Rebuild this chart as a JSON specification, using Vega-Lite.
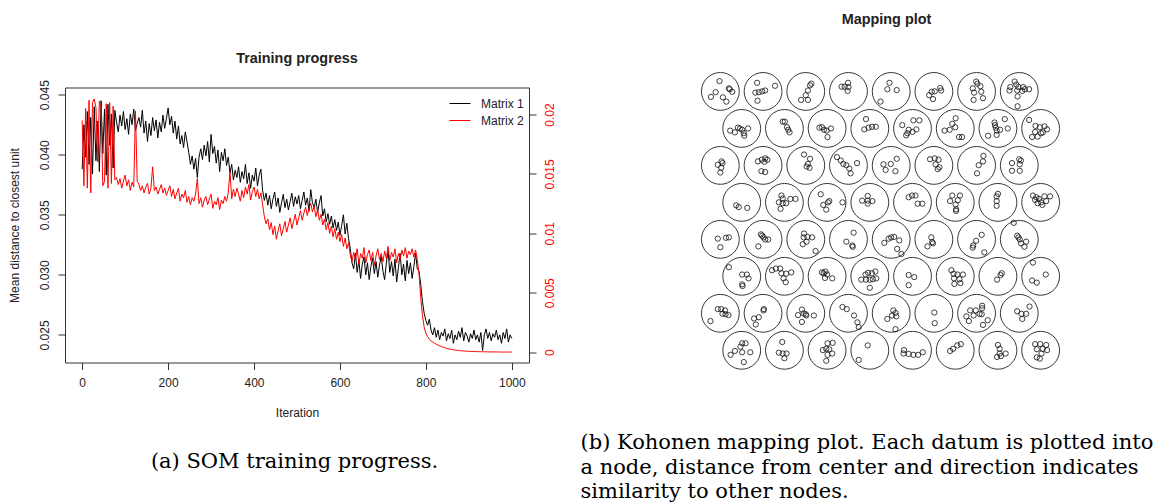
{
  "$schema": "https://vega.github.io/schema/vega-lite/v6.json",
  "background": "white",
  "autosize": {"type": "pad"},
  "padding": {"left": 7, "top": 12, "right": 0, "bottom": 0},
  "bounds": "flush",
  "center": true,
  "spacing": 170,
  "resolve": {"scale": {"color": "independent"}, "legend": {"color": "independent"}},
  "config": {
    "font": "Liberation Sans",
    "view": {"stroke": null},
    "axis": {
      "labelFont": "Liberation Sans", "labelFontSize": 12, "labelColor": "#222",
      "titleFont": "Liberation Sans", "titleFontSize": 12, "titleFontWeight": "normal", "titleColor": "#222",
      "tickColor": "#333", "tickSize": 7, "tickWidth": 1, "domain": false, "grid": false
    },
    "title": {"font": "Liberation Sans", "fontSize": 14.4, "fontWeight": "bold", "color": "#222", "baseline": "alphabetic"},
    "legend": {"labelFont": "Liberation Sans", "labelFontSize": 12, "labelColor": "#222"}
  },
  "datasets": {
    "training": [
      {"iter":0,"m1":0.0388,"m2":0.0195},{"iter":4,"m1":0.0425,"m2":0.0140},{"iter":8,"m1":0.0398,"m2":0.0205},{"iter":12,"m1":0.0436,"m2":0.0138},{"iter":16,"m1":0.0392,"m2":0.0212},
      {"iter":20,"m1":0.0431,"m2":0.0134},{"iter":24,"m1":0.0384,"m2":0.0210},{"iter":28,"m1":0.0440,"m2":0.0213},{"iter":32,"m1":0.0395,"m2":0.0206},{"iter":36,"m1":0.0428,"m2":0.0160},
      {"iter":40,"m1":0.0386,"m2":0.0211},{"iter":44,"m1":0.0445,"m2":0.0207},{"iter":48,"m1":0.0401,"m2":0.0140},{"iter":52,"m1":0.0438,"m2":0.0144},{"iter":56,"m1":0.0383,"m2":0.0209},
      {"iter":60,"m1":0.0442,"m2":0.0138},{"iter":64,"m1":0.0408,"m2":0.0210},{"iter":68,"m1":0.0434,"m2":0.0142},{"iter":72,"m1":0.0389,"m2":0.0207},{"iter":76,"m1":0.0437,"m2":0.0145},
      {"iter":80,"m1":0.0427,"m2":0.0147},{"iter":84,"m1":0.0419,"m2":0.0141},{"iter":88,"m1":0.0433,"m2":0.0146},{"iter":92,"m1":0.0424,"m2":0.0138},{"iter":96,"m1":0.0436,"m2":0.0144},
      {"iter":100,"m1":0.0421,"m2":0.0149},{"iter":104,"m1":0.0430,"m2":0.0140},{"iter":108,"m1":0.0417,"m2":0.0145},{"iter":112,"m1":0.0434,"m2":0.0136},{"iter":116,"m1":0.0425,"m2":0.0143},
      {"iter":120,"m1":0.0438,"m2":0.0139},{"iter":124,"m1":0.0420,"m2":0.0203},{"iter":128,"m1":0.0426,"m2":0.0144},{"iter":132,"m1":0.0431,"m2":0.0141},{"iter":136,"m1":0.0423,"m2":0.0136},
      {"iter":140,"m1":0.0437,"m2":0.0140},{"iter":144,"m1":0.0418,"m2":0.0134},{"iter":148,"m1":0.0428,"m2":0.0139},{"iter":152,"m1":0.0411,"m2":0.0142},{"iter":156,"m1":0.0426,"m2":0.0133},
      {"iter":160,"m1":0.0416,"m2":0.0138},{"iter":164,"m1":0.0431,"m2":0.0156},{"iter":168,"m1":0.0420,"m2":0.0136},{"iter":172,"m1":0.0429,"m2":0.0139},{"iter":176,"m1":0.0414,"m2":0.0133},
      {"iter":180,"m1":0.0427,"m2":0.0137},{"iter":184,"m1":0.0419,"m2":0.0141},{"iter":188,"m1":0.0433,"m2":0.0134},{"iter":192,"m1":0.0422,"m2":0.0138},{"iter":196,"m1":0.0430,"m2":0.0132},
      {"iter":200,"m1":0.0439,"m2":0.0136},{"iter":204,"m1":0.0425,"m2":0.0140},{"iter":208,"m1":0.0432,"m2":0.0131},{"iter":212,"m1":0.0418,"m2":0.0137},{"iter":216,"m1":0.0428,"m2":0.0129},
      {"iter":220,"m1":0.0413,"m2":0.0134},{"iter":224,"m1":0.0424,"m2":0.0138},{"iter":228,"m1":0.0409,"m2":0.0127},{"iter":232,"m1":0.0416,"m2":0.0133},{"iter":236,"m1":0.0406,"m2":0.0130},
      {"iter":240,"m1":0.0419,"m2":0.0136},{"iter":244,"m1":0.0411,"m2":0.0126},{"iter":248,"m1":0.0402,"m2":0.0131},{"iter":252,"m1":0.0392,"m2":0.0124},{"iter":256,"m1":0.0399,"m2":0.0130},
      {"iter":260,"m1":0.0388,"m2":0.0127},{"iter":264,"m1":0.0397,"m2":0.0133},{"iter":268,"m1":0.0381,"m2":0.0146},{"iter":272,"m1":0.0398,"m2":0.0125},{"iter":276,"m1":0.0405,"m2":0.0130},
      {"iter":280,"m1":0.0396,"m2":0.0122},{"iter":284,"m1":0.0408,"m2":0.0128},{"iter":288,"m1":0.0399,"m2":0.0131},{"iter":292,"m1":0.0411,"m2":0.0124},{"iter":296,"m1":0.0394,"m2":0.0129},
      {"iter":300,"m1":0.0417,"m2":0.0133},{"iter":304,"m1":0.0401,"m2":0.0121},{"iter":308,"m1":0.0407,"m2":0.0127},{"iter":312,"m1":0.0393,"m2":0.0124},{"iter":316,"m1":0.0404,"m2":0.0130},
      {"iter":320,"m1":0.0386,"m2":0.0120},{"iter":324,"m1":0.0402,"m2":0.0128},{"iter":328,"m1":0.0395,"m2":0.0125},{"iter":332,"m1":0.0405,"m2":0.0131},{"iter":336,"m1":0.0391,"m2":0.0127},
      {"iter":340,"m1":0.0398,"m2":0.0134},{"iter":344,"m1":0.0385,"m2":0.0152},{"iter":348,"m1":0.0392,"m2":0.0129},{"iter":352,"m1":0.0379,"m2":0.0137},{"iter":356,"m1":0.0387,"m2":0.0131},
      {"iter":360,"m1":0.0381,"m2":0.0138},{"iter":364,"m1":0.0390,"m2":0.0133},{"iter":368,"m1":0.0377,"m2":0.0127},{"iter":372,"m1":0.0386,"m2":0.0136},{"iter":376,"m1":0.0380,"m2":0.0130},
      {"iter":380,"m1":0.0392,"m2":0.0139},{"iter":384,"m1":0.0376,"m2":0.0133},{"iter":388,"m1":0.0385,"m2":0.0141},{"iter":392,"m1":0.0372,"m2":0.0128},{"iter":396,"m1":0.0383,"m2":0.0135},
      {"iter":400,"m1":0.0378,"m2":0.0139},{"iter":404,"m1":0.0389,"m2":0.0131},{"iter":408,"m1":0.0374,"m2":0.0137},{"iter":412,"m1":0.0383,"m2":0.0129},{"iter":416,"m1":0.0388,"m2":0.0134},
      {"iter":420,"m1":0.0370,"m2":0.0124},{"iter":424,"m1":0.0362,"m2":0.0114},{"iter":428,"m1":0.0368,"m2":0.0108},{"iter":432,"m1":0.0358,"m2":0.0112},{"iter":436,"m1":0.0366,"m2":0.0103},
      {"iter":440,"m1":0.0355,"m2":0.0109},{"iter":444,"m1":0.0363,"m2":0.0099},{"iter":448,"m1":0.0369,"m2":0.0106},{"iter":452,"m1":0.0357,"m2":0.0095},{"iter":456,"m1":0.0364,"m2":0.0102},
      {"iter":460,"m1":0.0352,"m2":0.0108},{"iter":464,"m1":0.0360,"m2":0.0098},{"iter":468,"m1":0.0367,"m2":0.0104},{"iter":472,"m1":0.0356,"m2":0.0110},{"iter":476,"m1":0.0363,"m2":0.0101},
      {"iter":480,"m1":0.0354,"m2":0.0107},{"iter":484,"m1":0.0361,"m2":0.0113},{"iter":488,"m1":0.0368,"m2":0.0104},{"iter":492,"m1":0.0357,"m2":0.0110},{"iter":496,"m1":0.0365,"m2":0.0116},
      {"iter":500,"m1":0.0359,"m2":0.0107},{"iter":504,"m1":0.0366,"m2":0.0113},{"iter":508,"m1":0.0355,"m2":0.0119},{"iter":512,"m1":0.0362,"m2":0.0111},{"iter":516,"m1":0.0369,"m2":0.0117},
      {"iter":520,"m1":0.0358,"m2":0.0122},{"iter":524,"m1":0.0364,"m2":0.0115},{"iter":528,"m1":0.0353,"m2":0.0121},{"iter":532,"m1":0.0371,"m2":0.0125},{"iter":536,"m1":0.0360,"m2":0.0118},
      {"iter":540,"m1":0.0356,"m2":0.0123},{"iter":544,"m1":0.0363,"m2":0.0114},{"iter":548,"m1":0.0352,"m2":0.0120},{"iter":552,"m1":0.0360,"m2":0.0111},{"iter":556,"m1":0.0366,"m2":0.0116},
      {"iter":560,"m1":0.0349,"m2":0.0107},{"iter":564,"m1":0.0355,"m2":0.0112},{"iter":568,"m1":0.0344,"m2":0.0103},{"iter":572,"m1":0.0351,"m2":0.0109},{"iter":576,"m1":0.0342,"m2":0.0100},
      {"iter":580,"m1":0.0349,"m2":0.0106},{"iter":584,"m1":0.0339,"m2":0.0097},{"iter":588,"m1":0.0346,"m2":0.0104},{"iter":592,"m1":0.0337,"m2":0.0095},{"iter":596,"m1":0.0344,"m2":0.0101},
      {"iter":600,"m1":0.0333,"m2":0.0093},{"iter":604,"m1":0.0341,"m2":0.0099},{"iter":608,"m1":0.0350,"m2":0.0089},{"iter":612,"m1":0.0334,"m2":0.0096},{"iter":616,"m1":0.0343,"m2":0.0087},
      {"iter":620,"m1":0.0330,"m2":0.0092},{"iter":624,"m1":0.0322,"m2":0.0082},{"iter":628,"m1":0.0310,"m2":0.0076},{"iter":632,"m1":0.0305,"m2":0.0084},{"iter":636,"m1":0.0318,"m2":0.0078},
      {"iter":640,"m1":0.0302,"m2":0.0087},{"iter":644,"m1":0.0312,"m2":0.0074},{"iter":648,"m1":0.0297,"m2":0.0083},{"iter":652,"m1":0.0309,"m2":0.0079},{"iter":656,"m1":0.0315,"m2":0.0088},
      {"iter":660,"m1":0.0300,"m2":0.0075},{"iter":664,"m1":0.0310,"m2":0.0082},{"iter":668,"m1":0.0296,"m2":0.0086},{"iter":672,"m1":0.0307,"m2":0.0077},{"iter":676,"m1":0.0314,"m2":0.0084},
      {"iter":680,"m1":0.0301,"m2":0.0073},{"iter":684,"m1":0.0311,"m2":0.0081},{"iter":688,"m1":0.0298,"m2":0.0087},{"iter":692,"m1":0.0308,"m2":0.0078},{"iter":696,"m1":0.0316,"m2":0.0083},
      {"iter":700,"m1":0.0303,"m2":0.0076},{"iter":704,"m1":0.0296,"m2":0.0085},{"iter":708,"m1":0.0310,"m2":0.0079},{"iter":712,"m1":0.0320,"m2":0.0089},{"iter":716,"m1":0.0302,"m2":0.0077},
      {"iter":720,"m1":0.0311,"m2":0.0084},{"iter":724,"m1":0.0299,"m2":0.0080},{"iter":728,"m1":0.0313,"m2":0.0087},{"iter":732,"m1":0.0294,"m2":0.0075},{"iter":736,"m1":0.0306,"m2":0.0083},
      {"iter":740,"m1":0.0318,"m2":0.0078},{"iter":744,"m1":0.0300,"m2":0.0086},{"iter":748,"m1":0.0309,"m2":0.0081},{"iter":752,"m1":0.0295,"m2":0.0088},{"iter":756,"m1":0.0312,"m2":0.0079},
      {"iter":760,"m1":0.0301,"m2":0.0085},{"iter":764,"m1":0.0310,"m2":0.0082},{"iter":768,"m1":0.0297,"m2":0.0087},{"iter":772,"m1":0.0307,"m2":0.0080},{"iter":776,"m1":0.0318,"m2":0.0086},
      {"iter":780,"m1":0.0305,"m2":0.0078},{"iter":784,"m1":0.0303,"m2":0.0066},{"iter":788,"m1":0.0292,"m2":0.0046},{"iter":792,"m1":0.0278,"m2":0.0031},{"iter":796,"m1":0.0268,"m2":0.0021},
      {"iter":800,"m1":0.0262,"m2":0.0016},{"iter":804,"m1":0.0258,"m2":0.0013},{"iter":808,"m1":0.0263,"m2":0.0011},{"iter":812,"m1":0.0254,"m2":0.00095},{"iter":816,"m1":0.0250,"m2":0.00085},
      {"iter":820,"m1":0.0256,"m2":0.00075},{"iter":824,"m1":0.0248,"m2":0.00067},{"iter":828,"m1":0.0254,"m2":0.0006},{"iter":832,"m1":0.0246,"m2":0.00053},{"iter":836,"m1":0.0252,"m2":0.00047},
      {"iter":840,"m1":0.0249,"m2":0.00042},{"iter":844,"m1":0.0255,"m2":0.00037},{"iter":848,"m1":0.0245,"m2":0.00033},{"iter":852,"m1":0.0251,"m2":0.00029},{"iter":856,"m1":0.0247,"m2":0.00026},
      {"iter":860,"m1":0.0254,"m2":0.00023},{"iter":864,"m1":0.0243,"m2":0.0002},{"iter":868,"m1":0.0250,"m2":0.00018},{"iter":872,"m1":0.0246,"m2":0.00016},{"iter":876,"m1":0.0253,"m2":0.00014},
      {"iter":880,"m1":0.0248,"m2":0.00012},{"iter":884,"m1":0.0256,"m2":0.00011},{"iter":888,"m1":0.0245,"m2":0.0001},{"iter":892,"m1":0.0252,"m2":0.00009},{"iter":896,"m1":0.0249,"m2":0.00008},
      {"iter":900,"m1":0.0244,"m2":0.00007},{"iter":904,"m1":0.0251,"m2":0.00006},{"iter":908,"m1":0.0247,"m2":0.00006},{"iter":912,"m1":0.0254,"m2":0.00005},{"iter":916,"m1":0.0246,"m2":0.00005},
      {"iter":920,"m1":0.0250,"m2":0.00004},{"iter":924,"m1":0.0244,"m2":0.00004},{"iter":928,"m1":0.0252,"m2":0.00004},{"iter":932,"m1":0.0237,"m2":0.00003},{"iter":936,"m1":0.0250,"m2":0.00003},
      {"iter":940,"m1":0.0255,"m2":0.00003},{"iter":944,"m1":0.0247,"m2":0.00003},{"iter":948,"m1":0.0252,"m2":0.00002},{"iter":952,"m1":0.0245,"m2":0.00002},{"iter":956,"m1":0.0251,"m2":0.00002},
      {"iter":960,"m1":0.0248,"m2":0.00002},{"iter":964,"m1":0.0254,"m2":0.00002},{"iter":968,"m1":0.0246,"m2":0.00002},{"iter":972,"m1":0.0250,"m2":0.00001},{"iter":976,"m1":0.0243,"m2":0.00001},
      {"iter":980,"m1":0.0252,"m2":0.00001},{"iter":984,"m1":0.0247,"m2":0.00001},{"iter":988,"m1":0.0255,"m2":0.00001},{"iter":992,"m1":0.0244,"m2":0.00001},{"iter":996,"m1":0.0250,"m2":0.00001},
      {"iter":1000,"m1":0.0247,"m2":0.00001}
    ],
    "nodes": [
      {"x":1,"y":6.928},{"x":2,"y":6.928},{"x":3,"y":6.928},{"x":4,"y":6.928},{"x":5,"y":6.928},{"x":6,"y":6.928},{"x":7,"y":6.928},{"x":8,"y":6.928},
      {"x":1.5,"y":6.062},{"x":2.5,"y":6.062},{"x":3.5,"y":6.062},{"x":4.5,"y":6.062},{"x":5.5,"y":6.062},{"x":6.5,"y":6.062},{"x":7.5,"y":6.062},{"x":8.5,"y":6.062},
      {"x":1,"y":5.196},{"x":2,"y":5.196},{"x":3,"y":5.196},{"x":4,"y":5.196},{"x":5,"y":5.196},{"x":6,"y":5.196},{"x":7,"y":5.196},{"x":8,"y":5.196},
      {"x":1.5,"y":4.33},{"x":2.5,"y":4.33},{"x":3.5,"y":4.33},{"x":4.5,"y":4.33},{"x":5.5,"y":4.33},{"x":6.5,"y":4.33},{"x":7.5,"y":4.33},{"x":8.5,"y":4.33},
      {"x":1,"y":3.464},{"x":2,"y":3.464},{"x":3,"y":3.464},{"x":4,"y":3.464},{"x":5,"y":3.464},{"x":6,"y":3.464},{"x":7,"y":3.464},{"x":8,"y":3.464},
      {"x":1.5,"y":2.598},{"x":2.5,"y":2.598},{"x":3.5,"y":2.598},{"x":4.5,"y":2.598},{"x":5.5,"y":2.598},{"x":6.5,"y":2.598},{"x":7.5,"y":2.598},{"x":8.5,"y":2.598},
      {"x":1,"y":1.732},{"x":2,"y":1.732},{"x":3,"y":1.732},{"x":4,"y":1.732},{"x":5,"y":1.732},{"x":6,"y":1.732},{"x":7,"y":1.732},{"x":8,"y":1.732},
      {"x":1.5,"y":0.866},{"x":2.5,"y":0.866},{"x":3.5,"y":0.866},{"x":4.5,"y":0.866},{"x":5.5,"y":0.866},{"x":6.5,"y":0.866},{"x":7.5,"y":0.866},{"x":8.5,"y":0.866}
    ],
    "mapped": [
      {"x":0.98,"y":7.17},{"x":0.89,"y":6.91},{"x":0.78,"y":6.80},{"x":1.20,"y":7.00},{"x":1.22,"y":6.98},{"x":1.28,"y":6.92},{"x":1.06,"y":6.79},{"x":1.14,"y":6.69},
      {"x":1.86,"y":7.13},{"x":1.82,"y":6.90},{"x":1.90,"y":6.91},{"x":1.98,"y":6.93},{"x":2.05,"y":6.95},{"x":1.87,"y":6.71},{"x":2.28,"y":7.06},
      {"x":3.13,"y":7.11},{"x":3.10,"y":7.07},{"x":3.05,"y":6.95},{"x":3.00,"y":6.84},{"x":2.89,"y":6.73},{"x":3.05,"y":6.73},
      {"x":3.99,"y":7.13},{"x":3.84,"y":7.04},{"x":3.91,"y":7.04},{"x":4.00,"y":7.03},{"x":3.98,"y":6.94},
      {"x":4.96,"y":7.13},{"x":4.91,"y":6.98},{"x":5.13,"y":6.96},{"x":4.75,"y":6.69},
      {"x":6.15,"y":7.01},{"x":6.17,"y":6.95},{"x":5.95,"y":6.92},{"x":6.02,"y":6.93},{"x":5.89,"y":6.84},{"x":5.98,"y":6.75},
      {"x":6.99,"y":7.16},{"x":7.02,"y":7.11},{"x":6.91,"y":7.00},{"x":7.09,"y":7.05},{"x":7.11,"y":6.92},{"x":6.94,"y":6.90},{"x":6.93,"y":6.73},{"x":7.15,"y":6.77},
      {"x":7.89,"y":7.16},{"x":7.93,"y":7.09},{"x":7.79,"y":7.03},{"x":7.98,"y":7.03},{"x":8.09,"y":7.03},{"x":8.13,"y":6.98},{"x":8.23,"y":6.98},{"x":7.77,"y":6.95},{"x":7.95,"y":6.95},{"x":8.07,"y":6.94},{"x":7.96,"y":6.81},{"x":7.96,"y":6.58},
      {"x":1.23,"y":6.01},{"x":1.34,"y":5.97},{"x":1.41,"y":6.08},{"x":1.46,"y":6.06},{"x":1.51,"y":6.03},{"x":1.55,"y":5.95},{"x":1.56,"y":5.89},{"x":1.65,"y":6.06},
      {"x":2.46,"y":6.22},{"x":2.51,"y":6.22},{"x":2.56,"y":6.09},{"x":2.59,"y":6.03},{"x":2.62,"y":5.97},
      {"x":3.32,"y":6.08},{"x":3.38,"y":6.09},{"x":3.43,"y":6.03},{"x":3.49,"y":6.01},{"x":3.59,"y":6.06},{"x":3.51,"y":5.86},
      {"x":4.41,"y":6.28},{"x":4.37,"y":6.04},{"x":4.47,"y":6.08},{"x":4.55,"y":6.10},{"x":4.64,"y":6.10},
      {"x":5.26,"y":6.14},{"x":5.52,"y":6.25},{"x":5.66,"y":6.25},{"x":5.41,"y":6.03},{"x":5.59,"y":6.04},{"x":5.50,"y":5.98},{"x":5.38,"y":5.95},{"x":5.35,"y":5.90},
      {"x":6.51,"y":6.30},{"x":6.43,"y":6.17},{"x":6.50,"y":6.09},{"x":6.25,"y":6.01},{"x":6.37,"y":6.03},{"x":6.59,"y":5.86},{"x":6.66,"y":5.86},
      {"x":7.42,"y":6.20},{"x":7.43,"y":6.14},{"x":7.45,"y":6.08},{"x":7.47,"y":6.01},{"x":7.66,"y":6.28},{"x":7.73,"y":6.06},{"x":7.27,"y":5.89},{"x":7.47,"y":5.91},{"x":7.55,"y":6.03},
      {"x":8.23,"y":6.26},{"x":8.38,"y":6.12},{"x":8.48,"y":6.09},{"x":8.59,"y":6.11},{"x":8.65,"y":6.04},{"x":8.37,"y":5.98},{"x":8.51,"y":5.95},{"x":8.55,"y":5.97},{"x":8.43,"y":5.87},{"x":8.30,"y":5.86},
      {"x":1.03,"y":5.29},{"x":1.05,"y":5.25},{"x":0.94,"y":5.21},{"x":1.02,"y":5.14},{"x":1.00,"y":5.03},
      {"x":1.88,"y":5.29},{"x":1.97,"y":5.33},{"x":2.05,"y":5.36},{"x":2.10,"y":5.33},{"x":2.03,"y":5.28},{"x":1.96,"y":5.06},{"x":2.05,"y":5.04},
      {"x":2.96,"y":5.45},{"x":3.10,"y":5.35},{"x":3.05,"y":5.23},{"x":3.02,"y":5.17},{"x":3.09,"y":5.14},
      {"x":3.73,"y":5.39},{"x":3.82,"y":5.31},{"x":3.88,"y":5.23},{"x":3.95,"y":5.20},{"x":4.02,"y":5.12},{"x":4.05,"y":5.01},{"x":4.20,"y":5.25},
      {"x":5.13,"y":5.35},{"x":4.99,"y":5.23},{"x":4.82,"y":5.22},{"x":4.87,"y":5.09},{"x":5.10,"y":5.06},
      {"x":5.91,"y":5.34},{"x":6.02,"y":5.36},{"x":6.11,"y":5.33},{"x":6.04,"y":5.22},{"x":6.13,"y":5.15},{"x":6.09,"y":5.11},
      {"x":7.16,"y":5.42},{"x":7.15,"y":5.29},{"x":7.05,"y":5.20},{"x":7.01,"y":5.01},
      {"x":8.00,"y":5.34},{"x":8.04,"y":5.31},{"x":8.01,"y":5.22},{"x":7.83,"y":5.25},{"x":7.83,"y":5.07},{"x":8.01,"y":5.07},
      {"x":1.37,"y":4.26},{"x":1.43,"y":4.22},{"x":1.63,"y":4.20},
      {"x":2.43,"y":4.49},{"x":2.46,"y":4.42},{"x":2.37,"y":4.33},{"x":2.46,"y":4.31},{"x":2.54,"y":4.31},{"x":2.64,"y":4.41},{"x":2.76,"y":4.41},{"x":2.41,"y":4.18},
      {"x":3.35,"y":4.52},{"x":3.55,"y":4.36},{"x":3.52,"y":4.33},{"x":3.41,"y":4.27},{"x":3.48,"y":4.16},{"x":3.86,"y":4.33},
      {"x":4.45,"y":4.48},{"x":4.32,"y":4.37},{"x":4.45,"y":4.37},{"x":4.56,"y":4.36},{"x":4.45,"y":4.30},
      {"x":5.41,"y":4.45},{"x":5.49,"y":4.49},{"x":5.57,"y":4.49},{"x":5.62,"y":4.30},{"x":5.73,"y":4.30},
      {"x":6.43,"y":4.49},{"x":6.61,"y":4.49},{"x":6.56,"y":4.38},{"x":6.38,"y":4.36},{"x":6.51,"y":4.28},{"x":6.52,"y":4.17},{"x":6.52,"y":4.13},
      {"x":7.50,"y":4.53},{"x":7.47,"y":4.47},{"x":7.47,"y":4.36},{"x":7.47,"y":4.25},
      {"x":8.32,"y":4.49},{"x":8.40,"y":4.45},{"x":8.37,"y":4.39},{"x":8.46,"y":4.41},{"x":8.59,"y":4.47},{"x":8.72,"y":4.47},{"x":8.51,"y":4.33},{"x":8.63,"y":4.36},{"x":8.54,"y":4.27},{"x":8.43,"y":4.31},
      {"x":0.94,"y":3.48},{"x":1.13,"y":3.50},{"x":1.20,"y":3.51},{"x":1.00,"y":3.28},
      {"x":1.95,"y":3.58},{"x":1.98,"y":3.55},{"x":2.01,"y":3.51},{"x":2.05,"y":3.46},{"x":2.12,"y":3.46},{"x":1.89,"y":3.30},
      {"x":2.96,"y":3.60},{"x":2.95,"y":3.51},{"x":3.04,"y":3.52},{"x":3.15,"y":3.51},{"x":3.02,"y":3.41},{"x":2.93,"y":3.35},{"x":3.23,"y":3.19},
      {"x":4.12,"y":3.62},{"x":3.95,"y":3.41},{"x":4.09,"y":3.32},{"x":4.10,"y":3.29},
      {"x":4.84,"y":3.38},{"x":4.94,"y":3.48},{"x":5.00,"y":3.51},{"x":5.07,"y":3.52},{"x":5.19,"y":3.44},{"x":5.14,"y":3.24},{"x":5.24,"y":3.12},
      {"x":5.94,"y":3.51},{"x":5.96,"y":3.40},{"x":5.98,"y":3.37},{"x":5.85,"y":3.30},
      {"x":7.12,"y":3.57},{"x":6.99,"y":3.43},{"x":6.92,"y":3.32},{"x":6.91,"y":3.27},{"x":7.18,"y":3.16},
      {"x":7.87,"y":3.85},{"x":7.95,"y":3.55},{"x":7.98,"y":3.51},{"x":8.01,"y":3.46},{"x":8.16,"y":3.41},{"x":8.12,"y":3.29},{"x":8.04,"y":3.37},
      {"x":1.20,"y":2.81},{"x":1.51,"y":2.64},{"x":1.62,"y":2.64},{"x":1.66,"y":2.55},{"x":1.51,"y":2.41},{"x":1.52,"y":2.37},
      {"x":2.21,"y":2.74},{"x":2.30,"y":2.78},{"x":2.40,"y":2.78},{"x":2.43,"y":2.67},{"x":2.54,"y":2.66},{"x":2.66,"y":2.69},{"x":2.48,"y":2.55},{"x":2.53,"y":2.46},
      {"x":3.38,"y":2.69},{"x":3.42,"y":2.67},{"x":3.46,"y":2.71},{"x":3.50,"y":2.64},{"x":3.45,"y":2.56},{"x":3.62,"y":2.55},
      {"x":4.30,"y":2.52},{"x":4.40,"y":2.64},{"x":4.46,"y":2.68},{"x":4.55,"y":2.67},{"x":4.63,"y":2.71},{"x":4.41,"y":2.52},{"x":4.50,"y":2.52},{"x":4.57,"y":2.53},{"x":4.65,"y":2.55},{"x":4.50,"y":2.33},
      {"x":5.41,"y":2.63},{"x":5.54,"y":2.58},{"x":5.41,"y":2.39},
      {"x":6.41,"y":2.74},{"x":6.46,"y":2.66},{"x":6.55,"y":2.64},{"x":6.68,"y":2.64},{"x":6.47,"y":2.55},{"x":6.60,"y":2.53},{"x":6.48,"y":2.42},{"x":6.62,"y":2.44},
      {"x":7.59,"y":2.67},{"x":7.56,"y":2.63},{"x":7.48,"y":2.52},
      {"x":8.32,"y":2.92},{"x":8.62,"y":2.64},{"x":8.30,"y":2.50},{"x":8.41,"y":2.45},
      {"x":0.94,"y":1.83},{"x":1.02,"y":1.83},{"x":1.11,"y":1.80},{"x":1.05,"y":1.72},{"x":1.12,"y":1.71},{"x":1.19,"y":1.69},{"x":0.77,"y":1.55},
      {"x":2.02,"y":1.83},{"x":2.01,"y":1.80},{"x":1.90,"y":1.64},{"x":1.79,"y":1.61},{"x":1.83,"y":1.47},
      {"x":2.91,"y":1.82},{"x":2.82,"y":1.69},{"x":2.95,"y":1.73},{"x":3.00,"y":1.71},{"x":3.01,"y":1.68},{"x":3.19,"y":1.68},{"x":2.91,"y":1.53},
      {"x":3.86,"y":1.88},{"x":3.96,"y":1.83},{"x":4.13,"y":1.68},{"x":4.21,"y":1.52},{"x":4.24,"y":1.41},
      {"x":5.05,"y":1.80},{"x":5.10,"y":1.74},{"x":5.12,"y":1.66},{"x":5.02,"y":1.68},{"x":4.91,"y":1.60},{"x":5.10,"y":1.36},
      {"x":6.01,"y":1.75},{"x":6.02,"y":1.50},
      {"x":7.13,"y":1.91},{"x":7.13,"y":1.85},{"x":6.85,"y":1.80},{"x":6.98,"y":1.80},{"x":7.07,"y":1.72},{"x":7.12,"y":1.71},{"x":6.76,"y":1.66},{"x":6.93,"y":1.68},{"x":7.26,"y":1.57},{"x":6.82,"y":1.55},{"x":7.15,"y":1.46},
      {"x":8.24,"y":1.89},{"x":7.95,"y":1.78},{"x":8.05,"y":1.72},{"x":8.16,"y":1.72},{"x":8.07,"y":1.60},
      {"x":1.51,"y":1.03},{"x":1.59,"y":1.03},{"x":1.47,"y":0.95},{"x":1.34,"y":0.85},{"x":1.24,"y":0.76},{"x":1.51,"y":0.82},{"x":1.70,"y":0.82},{"x":1.55,"y":0.59},
      {"x":2.45,"y":1.06},{"x":2.37,"y":0.81},{"x":2.46,"y":0.79},{"x":2.55,"y":0.79},{"x":2.50,"y":0.68},
      {"x":3.51,"y":1.03},{"x":3.63,"y":1.04},{"x":3.40,"y":0.87},{"x":3.48,"y":0.90},{"x":3.55,"y":0.89},{"x":3.62,"y":0.79},{"x":3.51,"y":0.76},{"x":3.48,"y":0.62},
      {"x":4.45,"y":0.98},{"x":4.24,"y":0.64},
      {"x":5.30,"y":0.87},{"x":5.29,"y":0.79},{"x":5.41,"y":0.78},{"x":5.52,"y":0.76},{"x":5.63,"y":0.76},{"x":5.74,"y":0.82},
      {"x":6.38,"y":0.85},{"x":6.45,"y":0.90},{"x":6.55,"y":0.98},{"x":6.63,"y":1.01},
      {"x":7.50,"y":0.99},{"x":7.54,"y":0.90},{"x":7.68,"y":0.79},{"x":7.54,"y":0.79},{"x":7.48,"y":0.71},{"x":7.57,"y":0.73},
      {"x":8.37,"y":1.01},{"x":8.49,"y":1.01},{"x":8.63,"y":0.99},{"x":8.41,"y":0.89},{"x":8.55,"y":0.90},{"x":8.65,"y":0.87},{"x":8.52,"y":0.79},{"x":8.41,"y":0.70},{"x":8.48,"y":0.67}
    ]
  },
  "hconcat": [
    {
      "width": 464,
      "height": 275,
      "view": {"stroke": "#333", "strokeWidth": 1},
      "title": {"text": "Training progress", "offset": 13, "frame": "group"},
      "data": {"name": "training"},
      "layer": [
        {
          "mark": {"type": "line", "strokeWidth": 1},
          "encoding": {
            "x": {
              "field": "iter", "type": "quantitative",
              "scale": {"domain": [-40, 1040], "nice": false, "zero": false},
              "axis": {"orient": "bottom", "values": [0, 200, 400, 600, 800, 1000], "format": "d", "labelPadding": 8, "title": "Iteration", "titleY": 54, "titleBaseline": "alphabetic"}
            },
            "y": {
              "field": "m1", "type": "quantitative",
              "scale": {"domain": [0.0227, 0.0456], "nice": false, "zero": false},
              "axis": {"orient": "left", "values": [0.025, 0.03, 0.035, 0.04, 0.045], "format": ".3f", "labelAngle": -90, "labelAlign": "center", "labelBaseline": "bottom", "labelPadding": 7, "title": "Mean distance to closest unit", "titleX": -51, "titleBaseline": "middle", "titleAngle": -90}
            },
            "color": {
              "datum": "Matrix 1", "type": "nominal",
              "scale": {"domain": ["Matrix 1", "Matrix 2"], "range": ["#000000", "#ff0000"]},
              "legend": {"orient": "top-right", "title": null, "symbolType": "stroke", "symbolSize": 441, "symbolStrokeWidth": 1, "offset": 2, "padding": 3, "rowPadding": -9.2, "labelOffset": 10}
            }
          }
        },
        {
          "mark": {"type": "line", "strokeWidth": 1},
          "encoding": {
            "x": {
              "field": "iter", "type": "quantitative",
              "scale": {"domain": [-40, 1040], "nice": false, "zero": false},
              "axis": {"orient": "bottom", "ticks": false, "labels": false, "domain": false, "title": "(a) SOM training progress.", "titleFont": "DejaVu Serif", "titleFontSize": 21, "titleColor": "#000", "titleX": 229, "titleY": 105, "titleAlign": "center", "titleBaseline": "alphabetic"}
            },
            "y": {
              "field": "m2", "type": "quantitative",
              "scale": {"domain": [-0.00087, 0.02227], "nice": false, "zero": false},
              "axis": {"orient": "right", "values": [0, 0.005, 0.01, 0.015, 0.02], "format": "~g", "labelColor": "#ff0000", "labelAngle": -90, "labelAlign": "center", "labelBaseline": "top", "labelPadding": 8, "title": null}
            },
            "color": {"datum": "Matrix 2", "type": "nominal"}
          }
        }
      ],
      "resolve": {"scale": {"x": "independent", "y": "independent", "color": "shared"}, "legend": {"color": "shared"}}
    },
    {
      "width": 363,
      "height": 310,
      "title": {"text": "Mapping plot", "offset": 42.4, "dx": 6, "frame": "group"},
      "layer": [
        {
          "data": {"name": "nodes"},
          "mark": {"type": "point", "shape": "circle", "filled": false, "size": 1430, "stroke": "#222", "strokeWidth": 0.9, "opacity": 1},
          "encoding": {
            "x": {
              "field": "x", "type": "quantitative",
              "scale": {"domain": [0.5, 9], "nice": false, "zero": false},
              "axis": {"orient": "bottom", "ticks": false, "labels": false, "domain": false,
                "title": ["(b) Kohonen mapping plot. Each datum is plotted into", "a node, distance from center and direction indicates", "similarity to other nodes."],
                "titleFont": "DejaVu Serif", "titleFontSize": 21, "titleColor": "#000", "titleLineHeight": 24.5,
                "titleX": -119, "titleY": 68.6, "titleAlign": "left", "titleAnchor": "start", "titleBaseline": "alphabetic"}
            },
            "y": {
              "field": "y", "type": "quantitative",
              "scale": {"domain": [0.17, 7.43], "nice": false, "zero": false},
              "axis": null
            }
          }
        },
        {
          "data": {"name": "mapped"},
          "mark": {"type": "point", "shape": "circle", "filled": false, "size": 28, "stroke": "#111", "strokeWidth": 0.8, "opacity": 1},
          "encoding": {
            "x": {"field": "x", "type": "quantitative"},
            "y": {"field": "y", "type": "quantitative"}
          }
        }
      ]
    }
  ]
}
